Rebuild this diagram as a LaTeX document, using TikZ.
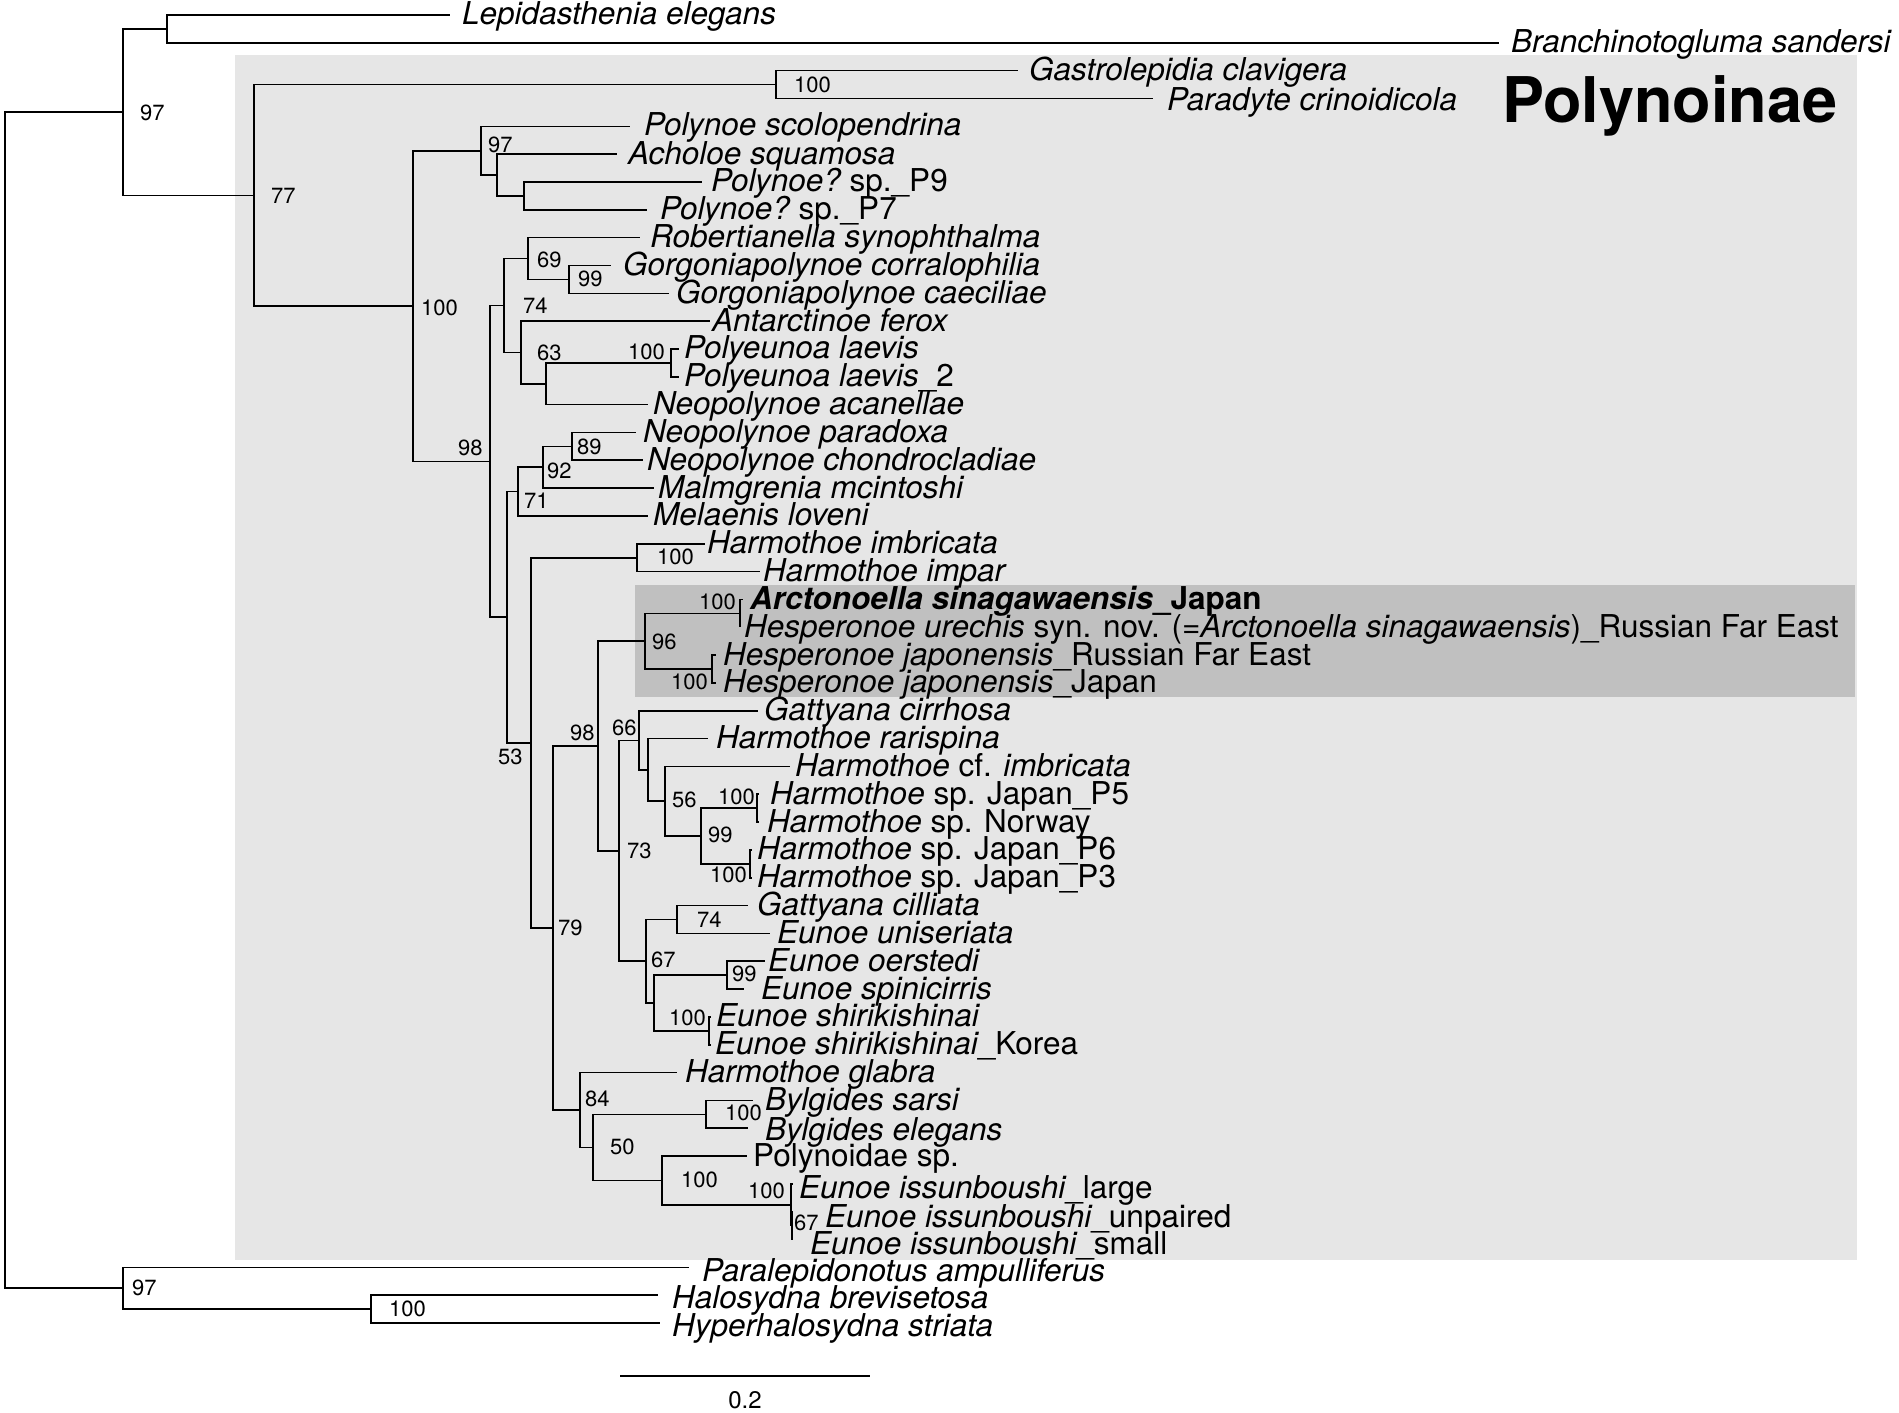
\documentclass[tikz,border=0pt]{standalone}
\usepackage{fontspec}
\setmainfont{TeX Gyre Heros}
\definecolor{boxlight}{RGB}{230,230,230}
\definecolor{boxdark}{RGB}{192,192,192}
\newcommand\tipfont{\fontsize{31.5}{32}\selectfont\itshape}
\newcommand\bsfont{\fontsize{22}{22}\selectfont}
\newcommand\mkleaf[5][10]{%
  \coordinate (e#2) at (#3,{15+27.83*(#2-1)});
  \node[tipl] (t#2) at (#4,{15+#1+27.83*(#2-1)}) {#5};}
\newcommand\mkbs[4]{\node[bs] (#1) at (#2,#3) {#4};}
\begin{document}
\begin{tikzpicture}[x=1pt,y=-1pt,
  br/.style={line width=1.6pt},
  tipl/.style={anchor=base west,inner sep=0pt,font=\tipfont},
  bs/.style={anchor=west,inner sep=0pt,font=\bsfont}]
\useasboundingbox (0,0) rectangle (1899,1413);
% shaded boxes
\fill[boxlight] (235,55) rectangle (1857,1260);
\fill[boxdark] (635,585) rectangle (1855,697);

% internal nodes
\coordinate (R) at (5,700.2);
\coordinate (A) at (123,112.1);
\coordinate (L) at (167,28.9);
\coordinate (N77) at (254,195.3);
\coordinate (G) at (776,84.6);
\coordinate (B100) at (413,306.0);
\coordinate (P97) at (481,150.7);
\coordinate (Q) at (497,175.05);
\coordinate (Q2) at (524,195.9);
\coordinate (N98) at (490,461.3);
\coordinate (N74) at (504,305.45);
\coordinate (N69) at (528,258.5);
\coordinate (N99g) at (569,279.4);
\coordinate (N63) at (521,352.4);
\coordinate (M) at (546,383.75);
\coordinate (N100p) at (671,362.9);
\coordinate (N53) at (507,617.2);
\coordinate (N71) at (518,491.6);
\coordinate (N92) at (543,467.25);
\coordinate (N89) at (572,446.4);
\coordinate (X) at (531,742.85);
\coordinate (Himb) at (637,557.7);
\coordinate (N79) at (553,928.0);
\coordinate (N98b) at (598,746.0);
\coordinate (N96) at (645,641.2);
\coordinate (N100a) at (740,613.35);
\coordinate (N100j) at (712,669.0);
\coordinate (N73) at (619,850.8);
\coordinate (N66) at (639,740.35);
\coordinate (Y) at (648,769.9);
\coordinate (N56) at (665,801.2);
\coordinate (N99h) at (701,835.98);
\coordinate (N100p5) at (757,808.15);
\coordinate (N100p6) at (750,863.8);
\coordinate (N67) at (646,961.24);
\coordinate (N74e) at (677,919.5);
\coordinate (Z) at (654,1002.98);
\coordinate (N99e) at (727,975.15);
\coordinate (N100s) at (709,1030.8);
\coordinate (N84) at (580,1110.0);
\coordinate (N50) at (593,1147.35);
\coordinate (N100B) at (706,1114.3);
\coordinate (N100I) at (662,1180.4);
\coordinate (N100e) at (791,1204.75);
\coordinate (N67i) at (792,1225.6);
\coordinate (O) at (123,1288.25);
\coordinate (N100o) at (371,1309.1);

% leaves: [baseline offset], index, line end x, text x, text
\mkleaf{1}{450}{462}{Lepidasthenia elegans}
\mkleaf{2}{1499}{1511}{Branchinotogluma sandersi}
\mkleaf{3}{1018}{1029}{Gastrolepidia clavigera}
\mkleaf[12]{4}{1153}{1167}{Paradyte crinoidicola}
\mkleaf[9]{5}{630}{644}{Polynoe scolopendrina}
\mkleaf{6}{617}{628}{Acholoe squamosa}
\mkleaf{7}{702}{711}{Polynoe?{\upshape\ sp.\_P9}}
\mkleaf{8}{647}{660}{Polynoe?{\upshape\ sp.\_P7}}
\mkleaf{9}{640}{650}{Robertianella synophthalma}
\mkleaf{10}{611}{623}{Gorgoniapolynoe corralophilia}
\mkleaf{11}{669}{676}{Gorgoniapolynoe caeciliae}
\mkleaf{12}{710}{712}{Antarctinoe ferox}
\mkleaf{13}{679}{684}{Polyeunoa laevis}
\mkleaf{14}{679}{684}{Polyeunoa laevis{\upshape\_2}}
\mkleaf{15}{648}{653}{Neopolynoe acanellae}
\mkleaf{16}{636}{643}{Neopolynoe paradoxa}
\mkleaf{17}{643}{647}{Neopolynoe chondrocladiae}
\mkleaf{18}{654}{658}{Malmgrenia mcintoshi}
\mkleaf{19}{648}{653}{Melaenis loveni}
\mkleaf{20}{705}{707}{Harmothoe imbricata}
\mkleaf{21}{760}{763}{Harmothoe impar}
\mkleaf{22}{743}{750}{\bfseries Arctonoella sinagawaensis{\upshape\_Japan}}
\mkleaf{23}{740}{744}{Hesperonoe urechis{\upshape\ syn. nov. (=}Arctonoella sinagawaensis{\upshape)\_Russian Far East}}
\mkleaf{24}{716}{723}{Hesperonoe japonensis{\upshape\_Russian Far East}}
\mkleaf{25}{716}{723}{Hesperonoe japonensis{\upshape\_Japan}}
\mkleaf{26}{758}{764}{Gattyana cirrhosa}
\mkleaf{27}{708}{716}{Harmothoe rarispina}
\mkleaf{28}{790}{795}{Harmothoe{\upshape\ cf.} imbricata}
\mkleaf{29}{759}{770}{Harmothoe{\upshape\ sp. Japan\_P5}}
\mkleaf{30}{759}{767}{Harmothoe{\upshape\ sp. Norway}}
\mkleaf{31}{752}{757}{Harmothoe{\upshape\ sp. Japan\_P6}}
\mkleaf{32}{752}{757}{Harmothoe{\upshape\ sp. Japan\_P3}}
\mkleaf{33}{748}{757}{Gattyana cilliata}
\mkleaf{34}{770}{777}{Eunoe uniseriata}
\mkleaf{35}{765}{768}{Eunoe oerstedi}
\mkleaf{36}{744}{761}{Eunoe spinicirris}
\mkleaf{37}{711}{716}{Eunoe shirikishinai}
\mkleaf{38}{711}{715}{Eunoe shirikishinai{\upshape\_Korea}}
\mkleaf{39}{677}{685}{Harmothoe glabra}
\mkleaf{40}{753}{765}{Bylgides sarsi}
\mkleaf[12]{41}{748}{765}{Bylgides elegans}
\mkleaf{42}{747}{753}{{\upshape Polynoidae sp.}}
\mkleaf[15]{43}{793}{799}{Eunoe issunboushi{\upshape\_large}}
\mkleaf[16]{44}{793}{825}{Eunoe issunboushi{\upshape\_unpaired}}
\mkleaf[15]{45}{793}{810}{Eunoe issunboushi{\upshape\_small}}
\mkleaf[14]{46}{689}{702}{Paralepidonotus ampulliferus}
\mkleaf[13]{47}{658}{672}{Halosydna brevisetosa}
\mkleaf[13]{48}{660}{672}{Hyperhalosydna striata}

% branches
\foreach \p/\c in {R/A, R/O, A/L, A/N77, L/e1, L/e2, N77/G, N77/B100,
  G/e3, G/e4, B100/P97, B100/N98, P97/e5, P97/Q, Q/e6, Q/Q2, Q2/e7, Q2/e8,
  N98/N74, N98/N53, N74/N69, N74/N63, N69/e9, N69/N99g, N99g/e10, N99g/e11,
  N63/e12, N63/M, M/N100p, M/e15, N100p/e13, N100p/e14,
  N53/N71, N53/X, N71/N92, N71/e19, N92/N89, N92/e18, N89/e16, N89/e17,
  X/Himb, X/N79, Himb/e20, Himb/e21, N79/N98b, N79/N84,
  N98b/N96, N98b/N73, N96/N100a, N96/N100j, N100a/e22, N100a/e23,
  N100j/e24, N100j/e25, N73/N66, N73/N67, N66/e26, N66/Y, Y/e27, Y/N56,
  N56/e28, N56/N99h, N99h/N100p5, N99h/N100p6, N100p5/e29, N100p5/e30,
  N100p6/e31, N100p6/e32, N67/N74e, N67/Z, N74e/e33, N74e/e34,
  Z/N99e, Z/N100s, N99e/e35, N99e/e36, N100s/e37, N100s/e38,
  N84/e39, N84/N50, N50/N100B, N50/N100I, N100B/e40, N100B/e41,
  N100I/e42, N100I/N100e, N100e/e43, N100e/N67i, N67i/e44, N67i/e45,
  O/e46, O/N100o, N100o/e47, N100o/e48}
  \draw[br] (\p) |- (\c);

% support values
\mkbs{bA}{140}{113}{97}
\mkbs{bN77}{271}{196}{77}
\mkbs{bG}{794}{85}{100}
\mkbs{bB100}{421}{308}{100}
\mkbs{bP97}{488}{145}{97}
\mkbs{bN98}{458}{448}{98}
\mkbs{bN74}{523}{306}{74}
\mkbs{bN69}{537}{260}{69}
\mkbs{bN99g}{578}{279}{99}
\mkbs{bN63}{537}{353}{63}
\mkbs{bN100p}{628}{352}{100}
\mkbs{bN71}{524}{501}{71}
\mkbs{bN92}{547}{471}{92}
\mkbs{bN89}{577}{447}{89}
\mkbs{bN53}{498}{757}{53}
\mkbs{bHimb}{657}{557}{100}
\mkbs{bN98b}{570}{733}{98}
\mkbs{bN96}{652}{642}{96}
\mkbs{bN100a}{699}{602}{100}
\mkbs{bN100j}{671}{682}{100}
\mkbs{bN66}{612}{728}{66}
\mkbs{bN73}{627}{851}{73}
\mkbs{bN56}{672}{800}{56}
\mkbs{bN100p5}{718}{797}{100}
\mkbs{bN99h}{708}{835}{99}
\mkbs{bN100p6}{710}{875}{100}
\mkbs{bN79}{558}{928}{79}
\mkbs{bN67}{651}{960}{67}
\mkbs{bN74e}{697}{920}{74}
\mkbs{bN99e}{732}{974}{99}
\mkbs{bN100s}{669}{1018}{100}
\mkbs{bN84}{585}{1099}{84}
\mkbs{bN100B}{725}{1113}{100}
\mkbs{bN50}{610}{1147}{50}
\mkbs{bN100I}{681}{1180}{100}
\mkbs{bN100e}{748}{1191}{100}
\mkbs{bN67i}{794}{1223}{67}
\mkbs{bO}{132}{1288}{97}
\mkbs{bN100o}{389}{1309}{100}

% clade title
\node[anchor=base west,inner sep=0pt,font=\fontsize{63}{63}\selectfont\bfseries] (title) at (1502,122) {Polynoinae};

% scale bar
\coordinate (sb1) at (620,1376);
\coordinate (sb2) at (870,1376);
\draw[br] (sb1) -- (sb2);
\node[font=\fontsize{24}{24}\selectfont,inner sep=0pt] (sbl) at (745,1400) {0.2};
\end{tikzpicture}
\end{document}
